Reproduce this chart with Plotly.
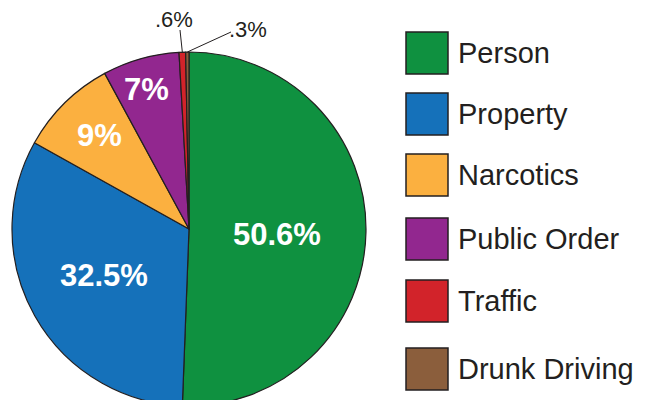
import math
import plotly.graph_objects as go

categories = ["Person", "Property", "Narcotics", "Public Order", "Traffic", "Drunk Driving"]
values = [50.6, 32.5, 9, 7, 0.6, 0.3]
labels_text = ["50.6%", "32.5%", "9%", "7%", ".6%", ".3%"]
colors = ["#0F9140", "#1571BA", "#FBB040", "#92278F", "#D2232A", "#8B5E3C"]

W, H = 649, 410
CX, CY, R = 189, 229, 177  # pie centre / radius in px (layout)
FONT = "Liberation Sans, Arial, Helvetica, sans-serif"
INK = "#231F20"


def px(x):
    return x / W


def py(y):
    return (H - y) / H


fig = go.Figure()
fig.add_trace(go.Pie(
    labels=categories,
    values=values,
    sort=False,
    direction="clockwise",
    rotation=0,
    marker=dict(colors=colors, line=dict(color=INK, width=1.2)),
    textinfo="none",
    hoverinfo="label+percent",
    showlegend=False,
    domain=dict(x=[px(CX - R), px(CX + R)], y=[py(CY + R), py(CY - R)]),
))

# slice mid angles (clockwise from 12 o'clock)
total = sum(values)
mids = []
acc = 0
for v in values:
    mids.append((acc + v / 2) / total * 2 * math.pi)
    acc += v

annotations = []
shapes = []
inside_r = [0.5, 0.55, 0.74, 0.82]
inside_dy = [4, -1, 0, 0]
inside_dx = [0, 0, 3, -3]
for i, rf in enumerate(inside_r):
    a = mids[i]
    x = CX + R * rf * math.sin(a) + inside_dx[i]
    y = CY - R * rf * math.cos(a) + inside_dy[i]
    annotations.append(dict(x=px(x), y=py(y), xref="paper", yref="paper",
                            text="<b>%s</b>" % labels_text[i], showarrow=False,
                            font=dict(family=FONT, size=31, color="white"),
                            xanchor="center", yanchor="middle"))

# outside labels with leader lines
out_pos = {4: (174, 19), 5: (248, 30)}
line_start = {4: (180, 30), 5: (231, 32)}
for i in (4, 5):
    a = mids[i]
    ex = CX + R * math.sin(a)
    ey = CY - R * math.cos(a)
    sx, sy = line_start[i]
    shapes.append(dict(type="line", xref="paper", yref="paper",
                       x0=px(sx), y0=py(sy), x1=px(ex), y1=py(ey),
                       line=dict(color=INK, width=1)))
    tx, ty = out_pos[i]
    annotations.append(dict(x=px(tx), y=py(ty), xref="paper", yref="paper",
                            text=labels_text[i], showarrow=False,
                            font=dict(family=FONT, size=22, color=INK),
                            xanchor="center", yanchor="middle"))

# custom legend
leg_tops = [32, 93, 154, 218, 280, 348]
SQ = 42
for i, cat in enumerate(categories):
    t = leg_tops[i]
    shapes.append(dict(type="rect", xref="paper", yref="paper",
                       x0=px(406), x1=px(406 + SQ), y0=py(t + SQ), y1=py(t),
                       fillcolor=colors[i], line=dict(color=INK, width=1.5)))
    annotations.append(dict(x=px(456), y=py(t + SQ / 2), xref="paper", yref="paper",
                            text=cat, showarrow=False,
                            font=dict(family=FONT, size=29, color=INK),
                            xanchor="left", yanchor="middle"))

fig.update_layout(
    width=W, height=H,
    margin=dict(l=0, r=0, t=0, b=0),
    paper_bgcolor="white", plot_bgcolor="white",
    annotations=annotations, shapes=shapes,
    showlegend=False,
)

fig.write_html("out.html", config={"displayModeBar": False}, post_script=(
    "document.documentElement.style.overflow='hidden';"
    "document.body.style.overflow='hidden';"
    "document.body.style.margin='0';"
))
